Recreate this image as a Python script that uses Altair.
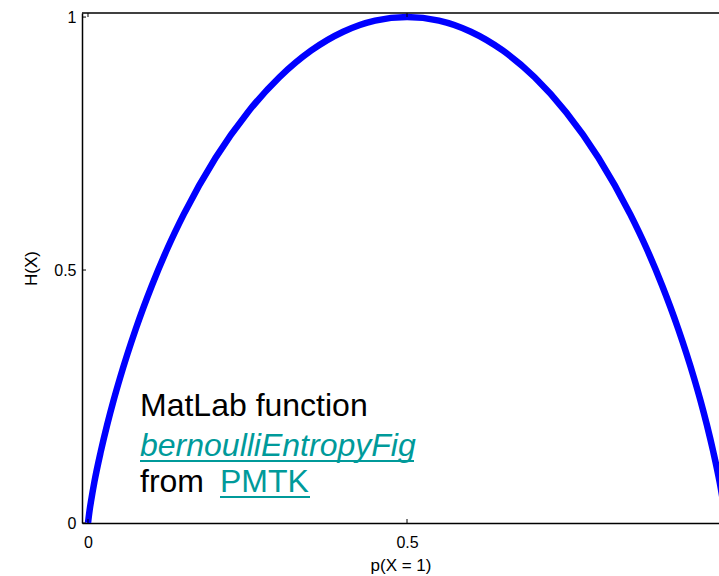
import altair as alt
import pandas as pd

# Curve
p_vals = [0.0, 0.0025, 0.005, 0.01, 0.02, 0.03, 0.04, 0.05, 0.075, 0.1, 0.125, 0.15,
          0.2, 0.25, 0.3, 0.35, 0.4, 0.45, 0.5, 0.55, 0.6, 0.65, 0.7, 0.75, 0.8, 0.85,
          0.875, 0.9, 0.925, 0.95, 0.96, 0.97, 0.98, 0.99, 0.995, 0.9975, 1.0]
h_vals = [0.0, 0.025, 0.045, 0.081, 0.141, 0.194, 0.242, 0.286, 0.384, 0.469, 0.544, 0.610,
          0.722, 0.811, 0.881, 0.934, 0.971, 0.993, 1.0, 0.993, 0.971, 0.934, 0.881, 0.811,
          0.722, 0.610, 0.544, 0.469, 0.384, 0.286, 0.242, 0.194, 0.141, 0.081, 0.045, 0.025, 0.0]

x_ticks = [0, 0.5]
y_ticks = [0, 0.5, 1]
x_title = "p(X = 1)"
y_title = "H(X)"
note_line1 = ["MatLab function"]
note_line2 = ["bernoulliEntropyFig"]
note_from = ["from"]
note_pmtk = ["PMTK"]

FONT = "Liberation Sans"
TEAL = "#009A9A"
W, H = 637, 510

df = pd.DataFrame({"p": p_vals, "h": h_vals})

xscale = alt.Scale(domain=[-0.0094, 0.989], nice=False, zero=False)
yscale = alt.Scale(domain=[0, 1.008], nice=False, zero=False)

xaxis = alt.Axis(values=x_ticks, format="~g", tickSize=0, labelPadding=11,
                 domainColor="black", domainWidth=1.5, grid=False,
                 labelFont=FONT, labelFontSize=16, labelColor="black",
                 title=x_title, titleFont=FONT, titleFontSize=17,
                 titleFontWeight="normal", titleColor="black", titlePadding=7)
yaxis = alt.Axis(values=y_ticks, format="~g", tickSize=0, labelPadding=6,
                 domainColor="black", domainWidth=1.5, grid=False,
                 labelFont=FONT, labelFontSize=16, labelColor="black",
                 title=y_title, titleFont=FONT, titleFontSize=17,
                 titleFontWeight="normal", titleColor="black", titlePadding=13)

curve = alt.Chart(df).mark_line(color="#0000FF", strokeWidth=6.5, clip=True,
                                interpolate="monotone").encode(
    x=alt.X("p:Q", scale=xscale, axis=xaxis),
    y=alt.Y("h:Q", scale=yscale, axis=yaxis),
)

top_line = alt.Chart(pd.DataFrame({"a": [0]})).mark_rule(color="black", strokeWidth=1.5).encode(
    x=alt.value(0), x2=alt.value(W), y=alt.value(0)
)

xt = pd.DataFrame({"p": x_ticks})
yt = pd.DataFrame({"h": y_ticks})
xticks_bottom = alt.Chart(xt).mark_rule(color="black", strokeWidth=1).encode(
    x=alt.X("p:Q", scale=xscale), y=alt.value(H), y2=alt.value(H - 4))
xticks_top = alt.Chart(xt).mark_rule(color="black", strokeWidth=1).encode(
    x=alt.X("p:Q", scale=xscale), y=alt.value(0), y2=alt.value(4))
yticks_left = alt.Chart(yt).mark_rule(color="black", strokeWidth=1).encode(
    y=alt.Y("h:Q", scale=yscale), x=alt.value(0), x2=alt.value(4))

FS = 32
t1 = alt.Chart(pd.DataFrame({"t": note_line1})).mark_text(
    font=FONT, fontSize=FS, color="black", align="left", baseline="alphabetic").encode(
    text="t:N", x=alt.value(58), y=alt.value(403))
t2 = alt.Chart(pd.DataFrame({"t": note_line2})).mark_text(
    font=FONT, fontSize=FS, fontStyle="italic", color=TEAL, align="left",
    baseline="alphabetic").encode(text="t:N", x=alt.value(58), y=alt.value(443))
u2 = alt.Chart(pd.DataFrame({"a": [0]})).mark_rule(color=TEAL, strokeWidth=2).encode(
    x=alt.value(58), x2=alt.value(332), y=alt.value(448))
t3 = alt.Chart(pd.DataFrame({"t": note_from})).mark_text(
    font=FONT, fontSize=FS, color="black", align="left", baseline="alphabetic").encode(
    text="t:N", x=alt.value(58), y=alt.value(479))
t4 = alt.Chart(pd.DataFrame({"t": note_pmtk})).mark_text(
    font=FONT, fontSize=FS, color=TEAL, align="left", baseline="alphabetic").encode(
    text="t:N", x=alt.value(138), y=alt.value(479))
u4 = alt.Chart(pd.DataFrame({"a": [0]})).mark_rule(color=TEAL, strokeWidth=2).encode(
    x=alt.value(138), x2=alt.value(228), y=alt.value(484))

chart = alt.layer(curve, top_line, xticks_bottom, xticks_top, yticks_left,
                  t1, t2, u2, t3, t4, u4).properties(
    width=W, height=H,
    autosize=alt.AutoSizeParams(type="none"),
    padding={"left": 82, "top": 13, "right": 0, "bottom": 53},
    background="white",
).configure_view(stroke=None)

chart.save("out.html", embed_options={"renderer": "svg", "actions": False})
